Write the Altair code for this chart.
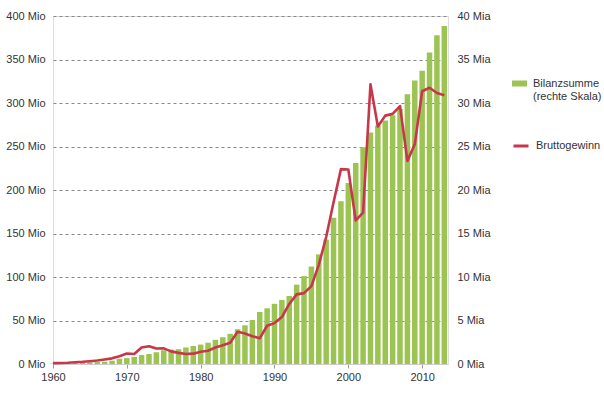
import altair as alt
import pandas as pd

# Jahre und Werte
jahre = list(range(1960, 2014))

# Bilanzsumme in Mia (rechte Skala)
bilanzsumme_mia = [
    0.05, 0.06, 0.08, 0.10, 0.13, 0.17, 0.22, 0.25, 0.38, 0.60,
    0.68, 0.82, 1.03, 1.15, 1.35, 1.58, 1.66, 1.70, 1.90, 2.07,
    2.23, 2.45, 2.78, 3.08, 3.47, 4.00, 4.45, 5.06, 5.98, 6.40,
    6.92, 7.36, 7.82, 9.12, 10.1, 11.2, 12.6, 14.3, 16.8, 18.7,
    20.8, 23.1, 24.9, 26.6, 27.4, 28.0, 28.6, 29.3, 31.0, 32.6,
    33.7, 35.8, 37.8, 38.85,
]

# Bruttogewinn in Mio (linke Skala)
bruttogewinn_mio = [
    1.0, 1.2, 1.5, 2.0, 2.5, 3.2, 4.0, 5.2, 6.5, 9.0,
    12.0, 11.5, 19.0, 20.5, 17.8, 18.0, 14.5, 12.8, 11.5, 11.9,
    14.0, 15.3, 19.0, 21.5, 24.5, 37.0, 35.0, 32.0, 29.5, 44.0,
    47.0, 54.0, 69.0, 80.0, 81.5, 89.5, 114.0, 146.0, 186.0, 224.0,
    223.5, 165.0, 174.0, 321.5, 273.0, 285.5, 287.5, 296.5, 233.5, 252.5,
    313.5, 317.5, 311.5, 309.0,
]

x_ticks = [1960, 1970, 1980, 1990, 2000, 2010]
mio_ticks = list(range(0, 401, 50))
mia_ticks = list(range(0, 41, 5))

FONT = "Liberation Sans"
TEXT = "#333333"
GREEN = "#9cc452"
RED = "#c8364a"

bars_df = pd.DataFrame({
    "Jahr": jahre,
    "Bilanzsumme": bilanzsumme_mia,
    "Reihe": "Bilanzsumme|(rechte Skala)",
})
line_df = pd.DataFrame({
    "Jahr": jahre,
    "Bruttogewinn": bruttogewinn_mio,
    "Reihe": "Bruttogewinn",
})

x_enc = alt.X(
    "Jahr:Q",
    scale=alt.Scale(domain=[1960, 2013.5], nice=False, zero=False, padding=0),
    axis=alt.Axis(
        values=x_ticks, format="d", title=None, grid=False, labelFlush=False,
        tickSize=4, tickColor="#999999", domainColor="#cccccc",
        labelPadding=3, labelFontSize=11, labelColor=TEXT, labelFont=FONT,
    ),
)

bars = alt.Chart(bars_df).mark_bar(size=5.5).encode(
    x=x_enc,
    y=alt.Y(
        "Bilanzsumme:Q",
        scale=alt.Scale(domain=[0, 40], nice=False),
        axis=alt.Axis(
            orient="right", values=mia_ticks, labelExpr="datum.value + ' Mia'",
            title=None, grid=False, domain=False, ticks=False, labelPadding=9,
            labelFontSize=11, labelColor=TEXT, labelFont=FONT,
        ),
    ),
    fill=alt.Fill(
        "Reihe:N",
        scale=alt.Scale(range=[GREEN]),
        legend=alt.Legend(
            orient="none", legendX=459, legendY=60, title=None, padding=0,
            symbolType="M-1,-0.4H1V0.4H-1Z", symbolSize=225, symbolStrokeWidth=0,
            labelExpr="split(datum.label, '|')", labelFontSize=11,
            labelColor=TEXT, labelFont=FONT, labelOffset=6, labelLimit=200,
        ),
    ),
)

line = alt.Chart(line_df).mark_line(strokeWidth=2.6, strokeJoin="round").encode(
    x=x_enc,
    y=alt.Y(
        "Bruttogewinn:Q",
        scale=alt.Scale(domain=[0, 400], nice=False),
        axis=alt.Axis(
            orient="left", values=mio_ticks, labelExpr="datum.value + ' Mio'",
            title=None, grid=True, gridDash=[3, 3], gridColor="#888888",
            gridWidth=1, domain=False, ticks=False, labelPadding=8,
            labelFontSize=11, labelColor=TEXT, labelFont=FONT,
        ),
    ),
    stroke=alt.Stroke(
        "Reihe:N",
        scale=alt.Scale(range=[RED]),
        legend=alt.Legend(
            orient="none", legendX=459, legendY=121, title=None, padding=0,
            symbolType="stroke", symbolSize=225, symbolStrokeWidth=3,
            labelFontSize=11, labelColor=TEXT, labelFont=FONT,
            labelOffset=6, labelLimit=200,
        ),
    ),
)

chart = (
    alt.layer(bars, line)
    .resolve_scale(y="independent", fill="independent", stroke="independent")
    .properties(
        width=395, height=348,
        autosize=alt.AutoSizeParams(type="none"),
        padding={"left": 53, "top": 16, "right": 156, "bottom": 29},
    )
    .configure_view(stroke=None)
    .configure(background="white")
)

chart.save("out.html", embed_options={"renderer": "svg", "actions": False})
